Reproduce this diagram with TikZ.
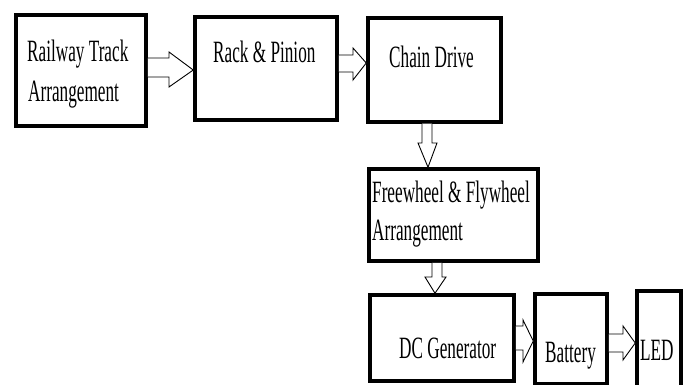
\documentclass[tikz,border=0pt]{standalone}
\usepackage{fontspec}
\newfontfamily\tnr{Liberation Serif}[FakeStretch=0.555]
\usetikzlibrary{calc}
\begin{document}
\begin{tikzpicture}[x=1pt,y=-1pt,
  box/.style={draw=black,line width=3.5pt,fill=white,inner sep=0pt},
  lbl/.style={inner sep=0pt,anchor=base west,font=\tnr\fontsize{31}{36}\selectfont},
  blk/.style={draw=black,line width=0.9pt,fill=white,line join=miter}]
\useasboundingbox (0,0) rectangle (688,385);
\fill[white] (0,0) rectangle (688,385);
% boxes
\node[box,minimum width=130pt,minimum height=111pt] (b1) at (81,70.5) {};
\node[box,minimum width=142pt,minimum height=103pt] (b2) at (266,68.5) {};
\node[box,minimum width=133pt,minimum height=104pt] (b3) at (434.5,70) {};
\node[box,minimum width=169pt,minimum height=92pt] (b4) at (453.5,215) {};
\node[box,minimum width=144pt,minimum height=86pt] (b5) at (442,338) {};
\node[box,minimum width=72pt,minimum height=90pt] (b6) at (571,339) {};
\node[box,minimum width=44pt,minimum height=104pt] (b7) at (659,343) {};
% labels
\node[lbl] (t1a) at (27,62) {Railway Track};
\node[lbl] (t1b) at (28,102) {Arrangement};
\node[lbl] (t2) at (213,63) {Rack \& Pinion};
\node[lbl] (t3) at (389,68) {Chain Drive};
\node[lbl] (t4a) at (372,202) {Freewheel \& Flywheel};
\node[lbl] (t4b) at (372,240) {Arrangement};
\node[lbl] (t5) at (399,358) {DC Generator};
\node[lbl] (t6) at (545,362) {Battery};
\node[lbl] (t7) at (640,360) {LED};
% block arrows
\draw[blk] (b1.east |- 0,58) -- (169,58) -- (169,52) -- (b2.west |- 0,70)
  -- (169,87) -- (169,77) -- (b1.east |- 0,77);
\draw[blk] (b2.east |- 0,55) -- (353,55) -- (353,48) -- (b3.west |- 0,63)
  -- (353,80) -- (353,72) -- (b2.east |- 0,72);
\draw[blk] (422,0 |- b3.south) -- (422,143) -- (418,143) -- (428,0 |- b4.north)
  -- (437,143) -- (432,143) -- (432,0 |- b3.south);
\draw[blk] (432,0 |- b4.south) -- (432,277) -- (425,277) -- (435,0 |- b5.north)
  -- (446,277) -- (442,277) -- (442,0 |- b4.south);
\draw[blk] (b5.east |- 0,326) -- (523,326) -- (523,320) -- (b6.west |- 0,341)
  -- (523,362) -- (523,350) -- (b5.east |- 0,350);
\draw[blk] (b6.east |- 0,334) -- (623,334) -- (623,326) -- (b7.west |- 0,343)
  -- (623,360) -- (623,352) -- (b6.east |- 0,352);
\end{tikzpicture}
\end{document}
